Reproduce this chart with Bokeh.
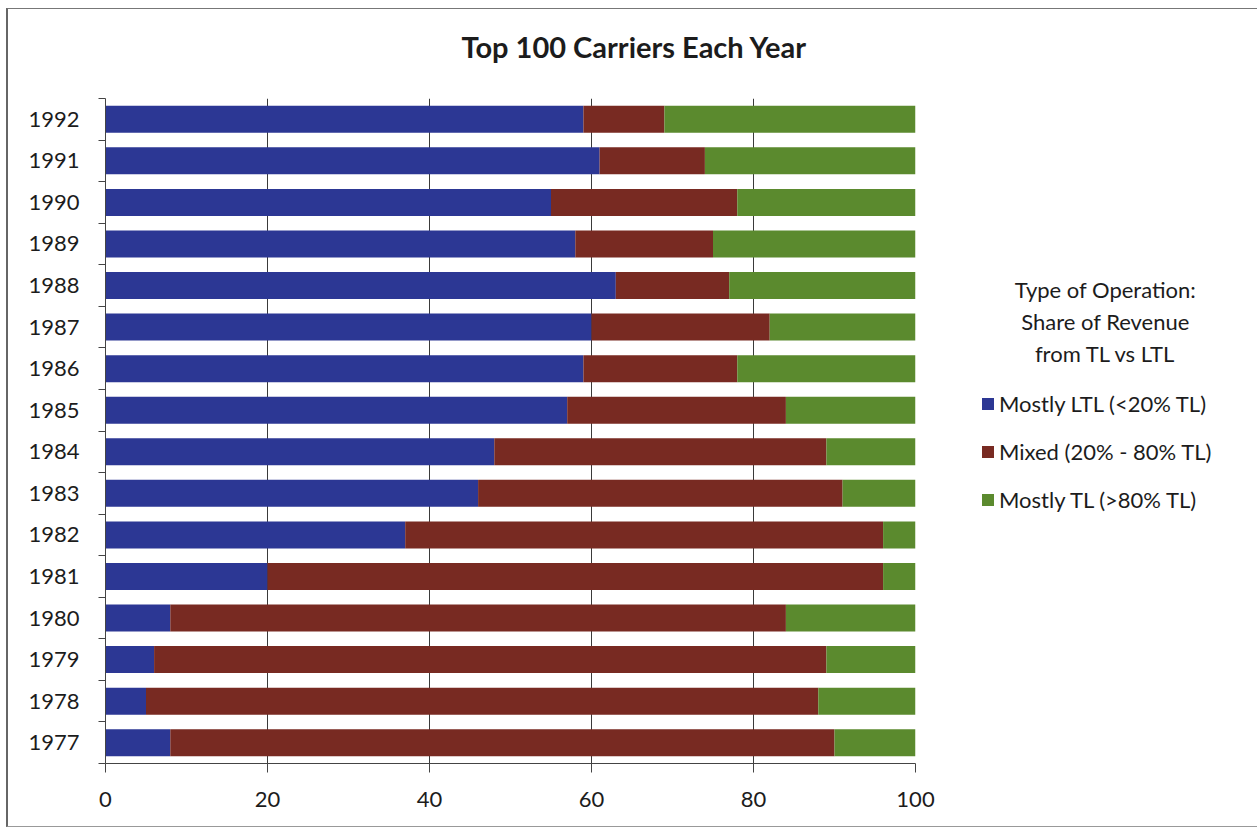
from bokeh.plotting import figure
from bokeh.layouts import row
from bokeh.models import (ColumnDataSource, FixedTicker, Legend, LegendItem, Label,
                          Range1d, Title)
from bokeh.embed import file_html
from bokeh.resources import INLINE

# Share of the top 100 carriers by type of operation, per year
years = [1977, 1978, 1979, 1980, 1981, 1982, 1983, 1984,
         1985, 1986, 1987, 1988, 1989, 1990, 1991, 1992]
mostly_ltl = [8, 5, 6, 8, 20, 37, 46, 48, 57, 59, 60, 63, 58, 55, 61, 59]
mixed = [82, 83, 83, 76, 76, 59, 45, 41, 27, 19, 22, 14, 17, 23, 13, 10]
mostly_tl = [10, 12, 11, 16, 4, 4, 9, 11, 16, 22, 18, 23, 25, 22, 26, 31]

series_keys = ["ltl", "mixed", "tl"]
series_names = ["Mostly LTL (<20% TL)", "Mixed (20% - 80% TL)", "Mostly TL (>80% TL)"]
series_colors = ["#2C3794", "#782A22", "#5B8A2E"]
x_ticks = [0, 20, 40, 60, 80, 100]

title_text = "Top 100 Carriers Each Year"
legend_title_lines = ["Type of Operation:", "Share of Revenue", "from TL vs LTL"]

FONT = "Lato"
TEXT = "#1c1c1c"
AXIS = "#444444"

source = ColumnDataSource(dict(year=years, ltl=mostly_ltl, mixed=mixed, tl=mostly_tl))

# ---- main bar chart -------------------------------------------------------
p = figure(
    width=937, height=817,
    frame_width=810, frame_height=665,
    min_border_left=97, min_border_top=89, min_border_bottom=63, min_border_right=30,
    x_range=Range1d(0, 100), y_range=Range1d(years[0] - 0.5, years[-1] + 0.5),
    output_backend="svg", toolbar_location=None,
)
p.outline_line_color = None
p.border_fill_color = "white"

p.hbar_stack(series_keys, y="year", height=0.65, color=series_colors,
             line_color=None, source=source)

# blank strip between the frame and the chart title
p.add_layout(Title(text=" ", text_font_size="1px", standoff=32), "above")

p.title.text = title_text
p.title.align = "left"
p.title.offset = 356
p.title.standoff = 0
p.title.text_font = FONT
p.title.text_font_style = "bold"
p.title.text_font_size = "29px"
p.title.text_color = TEXT

# x axis
p.xaxis.ticker = FixedTicker(ticks=x_ticks)
p.xaxis.axis_line_color = AXIS
p.xaxis.major_tick_line_color = AXIS
p.xaxis.major_tick_out = 9
p.xaxis.major_tick_in = 0
p.xaxis.minor_tick_line_color = None
p.xaxis.major_label_standoff = 19
p.xaxis.major_label_text_font = FONT
p.xaxis.major_label_text_font_size = "22px"
p.xaxis.major_label_text_color = TEXT

# y axis: labels at the bar centres, ticks between categories
p.yaxis.ticker = FixedTicker(ticks=years,
                             minor_ticks=[y - 0.5 for y in years] + [years[-1] + 0.5])
p.yaxis.formatter.use_scientific = False
p.yaxis.axis_line_color = AXIS
p.yaxis.major_tick_line_color = None
p.yaxis.major_tick_out = 0
p.yaxis.major_tick_in = 0
p.yaxis.minor_tick_line_color = AXIS
p.yaxis.minor_tick_out = 7
p.yaxis.minor_tick_in = 0
p.yaxis.major_label_standoff = 19
p.yaxis.major_label_text_font = FONT
p.yaxis.major_label_text_font_size = "22px"
p.yaxis.major_label_text_color = TEXT

p.ygrid.grid_line_color = None
p.xgrid.ticker = FixedTicker(ticks=x_ticks[1:])
p.xgrid.grid_line_color = "#3a3a3a"
p.xgrid.grid_line_width = 1

# ---- legend panel ---------------------------------------------------------
lg = figure(
    width=312, height=817, frame_width=312, frame_height=817,
    min_border=0, x_range=Range1d(0, 1), y_range=Range1d(0, 1),
    output_backend="svg", toolbar_location=None,
)
lg.axis.visible = False
lg.grid.visible = False
lg.outline_line_color = None
lg.border_fill_color = "white"

# swatch glyphs for the legend entries; their boxes lie outside the visible range
swatches = [lg.quad(left=[-3], right=[-2], top=[-2], bottom=[-3],
                    fill_color=c, line_color=None)
            for c in series_colors]

for i, line in enumerate(legend_title_lines):
    lg.add_layout(Label(x=160, y=626 - 32 * i, x_units="screen", y_units="screen",
                        text=line, text_align="center", text_baseline="middle",
                        text_font=FONT, text_font_size="22px", text_color=TEXT))

legend = Legend(
    items=[LegendItem(label=n, renderers=[r]) for n, r in zip(series_names, swatches)],
    location=(35, 312), orientation="vertical",
    glyph_width=15, glyph_height=15, label_height=30, spacing=18,
    label_standoff=4, padding=0, margin=0,
    label_text_font=FONT, label_text_font_size="22px", label_text_color=TEXT,
    border_line_color=None, background_fill_alpha=0,
)
lg.add_layout(legend, "center")

layout = row(p, lg, spacing=0)
layout.styles = {
    "margin-left": "6px", "margin-top": "8px",
    "border-left": "2px solid #666", "border-top": "1px solid #777",
    "border-bottom": "1px solid #999", "border-right": "none",
}

open("out.html", "w").write(file_html(layout, INLINE))
